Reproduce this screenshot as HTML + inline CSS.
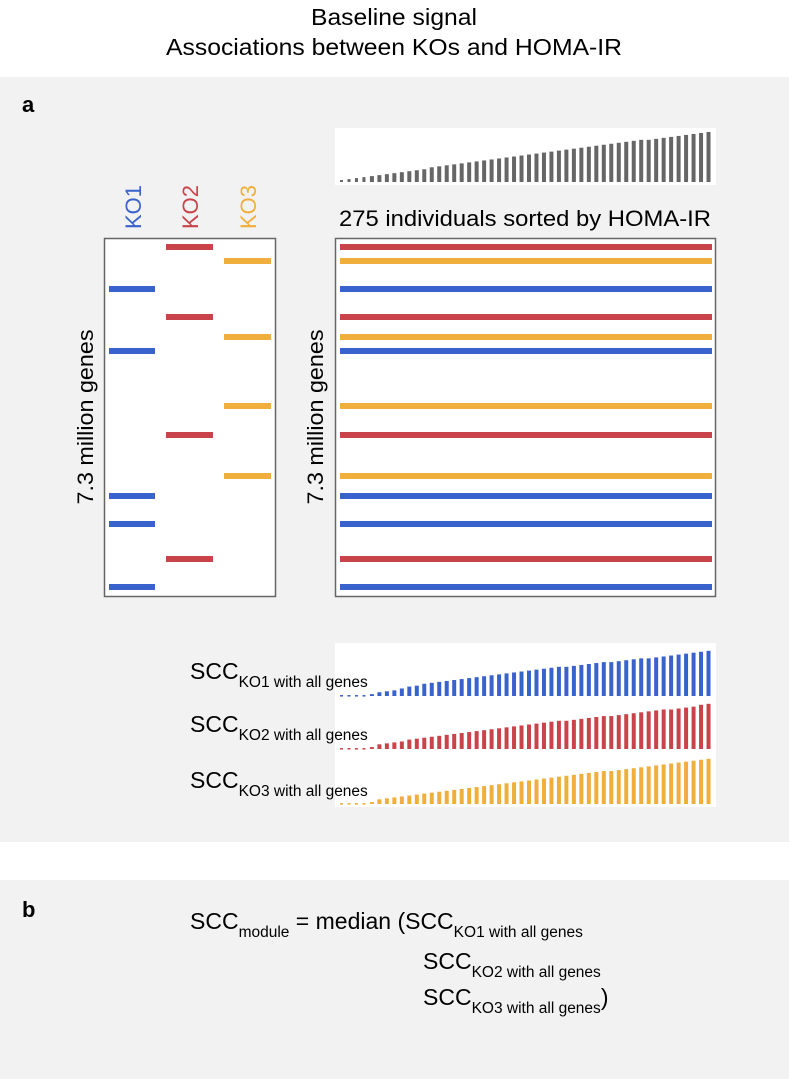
<!DOCTYPE html>
<html><head><meta charset="utf-8">
<style>
html,body{margin:0;padding:0;background:#fff;}
svg{display:block;font-family:"Liberation Sans",sans-serif;}
</style></head>
<body>
<svg id="fig" width="789" height="1079" viewBox="0 0 789 1079">
  <rect x="0" y="0" width="789" height="1079" fill="#fff"/>
  <rect x="0" y="77" width="789" height="765" fill="#f2f2f2"/>
  <rect x="0" y="880" width="789" height="199" fill="#f2f2f2"/>
  <text x="394" y="25" text-anchor="middle" font-size="23" textLength="166" lengthAdjust="spacingAndGlyphs">Baseline signal</text>
  <text x="394" y="55" text-anchor="middle" font-size="23" textLength="456" lengthAdjust="spacingAndGlyphs">Associations between KOs and HOMA-IR</text>
  <text x="22" y="112" font-size="22" font-weight="bold">a</text>
  <text x="22" y="917" font-size="22" font-weight="bold">b</text>

  <rect x="335" y="128" width="381" height="57" fill="#fff"/>
  <g id="homa"></g>
  <text x="339" y="226" font-size="22" textLength="372" lengthAdjust="spacingAndGlyphs">275 individuals sorted by HOMA-IR</text>

  <text transform="translate(141,229) rotate(-90)" font-size="22" fill="#3a62cc">KO1</text>
  <text transform="translate(198,229) rotate(-90)" font-size="22" fill="#c8434a">KO2</text>
  <text transform="translate(256,229) rotate(-90)" font-size="22" fill="#f0ae3c">KO3</text>

  <rect x="104.5" y="238.5" width="171" height="358" fill="#fff" stroke="#666" stroke-width="1.5"/>
  <rect x="335.5" y="238.5" width="380" height="358" fill="#fff" stroke="#666" stroke-width="1.5"/>
  <g id="lines"></g>
  <text transform="translate(93,417) rotate(-90)" text-anchor="middle" font-size="22" textLength="175" lengthAdjust="spacingAndGlyphs">7.3 million genes</text>
  <text transform="translate(323,417) rotate(-90)" text-anchor="middle" font-size="22" textLength="175" lengthAdjust="spacingAndGlyphs">7.3 million genes</text>

  <rect x="335" y="643" width="381" height="55" fill="#fff"/>
  <rect x="335" y="698" width="381" height="54" fill="#fff"/>
  <rect x="335" y="752" width="381" height="55" fill="#fff"/>
  <g id="scc"></g>

  <text x="190" y="679" font-size="23">SCC<tspan font-size="15.5" dy="8">KO1 with all genes</tspan></text>
  <text x="190" y="732" font-size="23">SCC<tspan font-size="15.5" dy="8">KO2 with all genes</tspan></text>
  <text x="190" y="788" font-size="23">SCC<tspan font-size="15.5" dy="8">KO3 with all genes</tspan></text>

  <text x="190" y="929" font-size="23">SCC<tspan font-size="15.5" dy="8">module</tspan><tspan dy="-8"> = median (SCC</tspan><tspan font-size="15.5" dy="8">KO1 with all genes</tspan></text>
  <text x="423" y="969" font-size="23">SCC<tspan font-size="15.5" dy="8">KO2 with all genes</tspan></text>
  <text x="423" y="1005" font-size="23">SCC<tspan font-size="15.5" dy="8">KO3 with all genes</tspan><tspan dy="-8">)</tspan></text>
</svg>
<script>
const homaValues = [2,3,4,5,6,7,8,9,10,11,12,13,15,16,17,18,19,20,21,22,23,24,25,26,27,28,29,30,31,32,33,34,35,36,37,38,39,40,41,42,43,43,44,45,46,47,48,49,50,51];
const sccKO1 = [1,1,1,1,2,4,5,6,8,10,11,13,14,15,16,17,18,19,20,21,22,23,24,25,26,27,28,29,30,31,31,32,33,34,35,36,36,37,38,39,40,40,41,42,43,44,45,46,47,48];
const sccKO2 = [1,1,1,1,2,5,6,7,8,10,11,12,13,14,15,16,17,18,19,20,21,22,23,24,25,26,27,28,29,30,30,31,32,33,34,35,35,36,37,38,39,40,41,42,42,43,44,45,47,48];
const sccKO3 = [1,1,1,1,2,5,6,7,8,9,10,11,12,13,14,15,16,17,18,19,20,21,22,23,24,25,26,27,28,29,30,31,32,33,34,35,35,36,37,38,39,40,41,42,43,44,45,46,47,48];
const ko1Genes = [289,351,496,524,587];
const ko2Genes = [247,317,435,559];
const ko3Genes = [261,337,406,476];

const NS = 'http://www.w3.org/2000/svg';
const xStart = 342, xStep = 7.48, barW = 4;
function xPos(i){ return xStart + i * xStep; }
function hScale(v, max){ return v / 51 * max; }

function drawBars(gId, vals, baseY, maxH, color, name){
  const g = document.getElementById(gId);
  vals.forEach((v,i)=>{
    const r = document.createElementNS(NS,'rect');
    const h = hScale(v, maxH);
    r.setAttribute('x', xPos(i) - barW/2);
    r.setAttribute('y', baseY - h);
    r.setAttribute('width', i < 4 ? 3 : barW);
    r.setAttribute('height', Math.max(h,1.5));
    r.setAttribute('fill', color);
    
    
    g.appendChild(r);
  });
}
drawBars('homa', homaValues, 182, 50, '#666', 'homa-bar');
drawBars('scc', sccKO1, 696, 48, '#3a62cc', 'scc-ko1-bar');
drawBars('scc', sccKO2, 749, 48, '#c8434a', 'scc-ko2-bar');
drawBars('scc', sccKO3, 804, 48, '#f0ae3c', 'scc-ko3-bar');

function drawLines(ys, x1, x2, color, name){
  const g = document.getElementById('lines');
  ys.forEach(y=>{
    [[x1,x2],[340,712]].forEach(([a,b])=>{
      const r = document.createElementNS(NS,'rect');
      r.setAttribute('x', a);
      r.setAttribute('y', y - 3);
      r.setAttribute('width', b - a);
      r.setAttribute('height', 6);
      r.setAttribute('fill', color);
      
      
      g.appendChild(r);
    });
  });
}
drawLines(ko1Genes, 109, 155, '#3a62cc', 'ko1-gene-line');
drawLines(ko2Genes, 166, 213, '#c8434a', 'ko2-gene-line');
drawLines(ko3Genes, 224, 271, '#f0ae3c', 'ko3-gene-line');
</script>
</body></html>
